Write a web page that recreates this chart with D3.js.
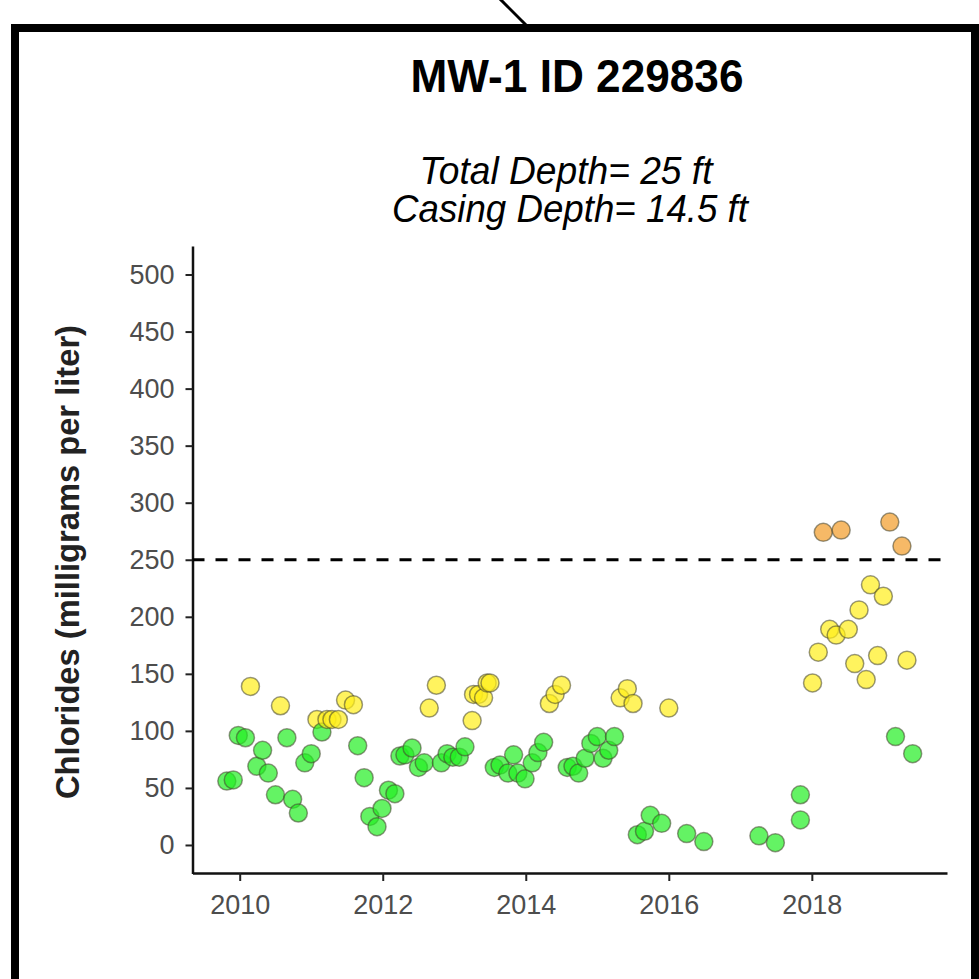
<html>
<head>
<script src="https://d3js.org/d3.v7.min.js"></script>
<style>
body { margin: 0; background: #fff; }
svg { display: block; font-family: 'Liberation Sans', Arial, sans-serif; }
</style>
</head>
<body>
<svg width="979" height="979"></svg>
<script>
// sample dates (decimal years) and chloride values
var years = [2009.82, 2009.91, 2009.98, 2010.08, 2010.15, 2010.24, 2010.32, 2010.40, 2010.50, 2010.57,
  2010.66, 2010.74, 2010.82, 2010.91, 2011.00, 2011.08, 2011.15, 2011.22, 2011.29, 2011.38,
  2011.48, 2011.59, 2011.65, 2011.74, 2011.82, 2011.92, 2011.99, 2012.08, 2012.17, 2012.24,
  2012.31, 2012.41, 2012.50, 2012.58, 2012.65, 2012.75, 2012.82, 2012.90, 2012.98, 2013.07,
  2013.15, 2013.25, 2013.27, 2013.34, 2013.41, 2013.46, 2013.50, 2013.56, 2013.64, 2013.75,
  2013.83, 2013.89, 2013.99, 2014.09, 2014.17, 2014.25, 2014.33, 2014.41, 2014.50, 2014.58,
  2014.66, 2014.74, 2014.83, 2014.91, 2015.00, 2015.08, 2015.16, 2015.24, 2015.32, 2015.42,
  2015.50, 2015.56, 2015.66, 2015.74, 2015.90, 2016.00, 2016.25, 2016.49, 2017.26, 2017.49,
  2017.84, 2017.84, 2018.01, 2018.09, 2018.16, 2018.25, 2018.34, 2018.41, 2018.51, 2018.60,
  2018.66, 2018.76, 2018.82, 2018.92, 2019.00, 2019.09, 2019.17, 2019.26, 2019.33, 2019.41];
var chlorides = [56, 57, 96, 94, 139, 69, 83, 63, 44, 122,
  94, 40, 28, 72, 80, 110, 99, 110, 110, 110,
  127, 123, 87, 59, 25, 16, 32, 48, 45, 78,
  79, 85, 68, 72, 120, 140, 72, 80, 77, 77,
  86, 109, 132, 132, 129, 142, 142, 68, 70, 63,
  79, 63, 58, 72, 81, 90, 124, 132, 140, 68,
  69, 63, 76, 89, 95, 76, 83, 95, 129, 137,
  124, 9, 12, 26, 19, 120, 10, 3, 8, 2,
  44, 22, 142, 169, 274, 189, 184, 276, 189, 159,
  206, 145, 228, 166, 218, 283, 95, 262, 162, 80];
var yTicks = [0, 50, 100, 150, 200, 250, 300, 350, 400, 450, 500];
var xTicks = [2010, 2012, 2014, 2016, 2018];
var limit = 250;
var breaks = [100, 250];
var fills = ["#22ee22", "#ffee1a", "#f29b26"];

var svg = d3.select("svg");

var x = d3.scaleLinear().domain([2009.34, 2019.89]).range([192.5, 947]);
var y = d3.scaleLinear().domain([-25, 525]).range([873.5, 246]);
var color = d3.scaleThreshold().domain(breaks).range(fills);

var points = years.map(function(d, i) { return {year: d, value: chlorides[i]}; });

// outer frame and the pointer line above it
svg.append("line").attr("x1", 499).attr("y1", -2).attr("x2", 528).attr("y2", 27)
  .attr("stroke", "#000").attr("stroke-width", 3);
svg.append("rect").attr("x", 15).attr("y", 28).attr("width", 960).attr("height", 1000)
  .attr("fill", "#fff").attr("stroke", "#000").attr("stroke-width", 8);

// titles
svg.append("text").attr("x", 577).attr("y", 92).attr("text-anchor", "middle")
  .attr("font-size", 47).attr("font-weight", "bold")
  .attr("textLength", 333).attr("lengthAdjust", "spacingAndGlyphs").text("MW-1 ID 229836");
svg.append("text").attr("x", 566).attr("y", 184).attr("text-anchor", "middle")
  .attr("font-size", 38).attr("font-style", "italic")
  .attr("textLength", 293).attr("lengthAdjust", "spacingAndGlyphs").text("Total Depth= 25 ft");
svg.append("text").attr("x", 570).attr("y", 222).attr("text-anchor", "middle")
  .attr("font-size", 38).attr("font-style", "italic")
  .attr("textLength", 356).attr("lengthAdjust", "spacingAndGlyphs").text("Casing Depth= 14.5 ft");

svg.append("text").attr("transform", "translate(79,562) rotate(-90)")
  .attr("text-anchor", "middle").attr("font-size", 33).attr("font-weight", "bold")
  .attr("fill", "#222").attr("textLength", 474).attr("lengthAdjust", "spacingAndGlyphs")
  .text("Chlorides (milligrams per liter)");

// axes
var yAxis = svg.append("g").attr("transform", "translate(192.5,0)")
  .call(d3.axisLeft(y).tickValues(yTicks).tickSize(7).tickPadding(11).tickSizeOuter(0));
var xAxis = svg.append("g").attr("transform", "translate(0,873)")
  .call(d3.axisBottom(x).tickValues(xTicks).tickFormat(d3.format("d")).tickSize(8).tickPadding(14).tickSizeOuter(0));

[yAxis, xAxis].forEach(function(g) {
  g.select(".domain").attr("stroke", "#111").attr("stroke-width", 2.5);
  g.selectAll(".tick line").attr("stroke", "#222").attr("stroke-width", 2);
  g.selectAll(".tick text").attr("fill", "#4d4d4d").attr("font-size", 27)
    .attr("font-family", "'Liberation Sans', Arial, sans-serif");
});

// threshold line
svg.append("line").attr("x1", x.range()[0]).attr("x2", x.range()[1])
  .attr("y1", y(limit)).attr("y2", y(limit))
  .attr("stroke", "#000").attr("stroke-width", 3).attr("stroke-dasharray", "12,11");

// samples
svg.append("g").selectAll("circle").data(points).enter().append("circle")
  .attr("cx", function(d) { return x(d.year); })
  .attr("cy", function(d) { return y(d.value); })
  .attr("r", 9)
  .attr("fill", function(d) { return color(d.value); })
  .attr("fill-opacity", 0.7)
  .attr("stroke", "#44442e")
  .attr("stroke-opacity", 0.55)
  .attr("stroke-width", 1.5);
</script>
</body>
</html>
